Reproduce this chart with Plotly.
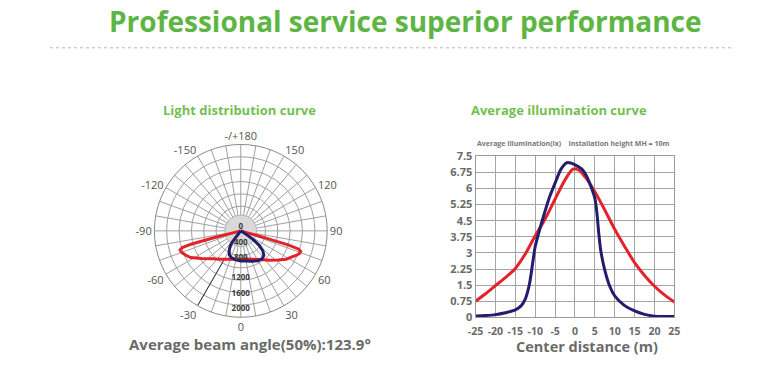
import plotly.graph_objects as go

# ---------------- data ----------------
# Average illumination curve (lx) vs center distance (m)
dist_blue = [-25, -22.5, -20, -17.5, -15, -13.5, -12.5, -11.5, -10.5, -10, -9, -8, -6.5, -5, -3.5, -2, -1, 0,
             1, 2, 3, 4, 5, 5.5, 6, 6.5, 7.5, 8.75, 10, 12.5, 15, 17.5, 20, 22.5, 25]
lux_blue = [0.07, 0.09, 0.13, 0.22, 0.35, 0.55, 0.85, 1.5, 2.7, 3.3, 4.0, 4.65, 5.55, 6.25, 6.9, 7.2, 7.18, 7.1,
            7.0, 6.85, 6.55, 6.1, 5.55, 4.9, 3.9, 3.1, 2.2, 1.45, 1.0, 0.55, 0.3, 0.14, 0.06, 0.04, 0.04]
dist_red = [-25, -22.5, -20, -17.5, -15, -12.5, -10, -7.5, -5, -2.5, -0.5, 1, 2.5, 5, 7.5, 10, 12.5, 15, 17.5,
            20, 22.5, 25]
lux_red = [0.75, 1.1, 1.48, 1.85, 2.28, 2.95, 3.8, 4.58, 5.5, 6.4, 6.9, 6.85, 6.55, 5.85, 5.0, 4.1, 3.3, 2.55,
           1.95, 1.45, 1.05, 0.72]
x_ticks = [-25, -20, -15, -10, -5, 0, 5, 10, 15, 20, 25]
x_ticktext = ["-25", "-20", "-15", "-10", "-5", "0", "5", "10", "15", "20", "25"]
y_ticks = [0, 0.75, 1.5, 2.25, 3, 3.75, 4.5, 5.25, 6, 6.75, 7.5]
y_ticktext = ["0", "0.75", "1.5", "2.25", "3", "3.75", "4.5", "5.25", "6", "6.75", "7.5"]

# Light distribution curve (polar, cd)
theta_red = [-76, -75.5, -75, -74, -72.5, -70, -66, -62, -55, -45, -36, -25, -12, 0, 12, 25, 35, 44, 52, 58,
             62, 66, 69, 71, 72.5, 73.5, 74, 74]
r_red = [0, 733, 1310, 1550, 1620, 1603, 1530, 1445, 1225, 1005, 895, 798, 738, 725, 733, 798, 890, 1038, 1205,
         1363, 1440, 1540, 1603, 1613, 1550, 1258, 625, 0]
theta_blue = [-38, -37.5, -37, -34, -30, -25, -19, -10, 0, 10, 20, 30, 37, 43, 48, 52, 55, 57, 58]
r_blue = [0, 210, 388, 493, 593, 680, 723, 750, 765, 780, 823, 880, 895, 860, 755, 588, 398, 210, 0]
angle_ticks = list(range(0, 360, 10))
angle_labels = {0: "0", 30: "30", 60: "60", 90: "90", 120: "120", 150: "150", 180: "-/+180",
                210: "-150", 240: "-120", 270: "-90", 300: "-60", 330: "-30"}
radial_label_vals = [0, 400, 800, 1200, 1600, 2000]
radial_max = 2200
n_rings = 7
center_disc_r = 400
beam_line_theta = [-30, -30]
beam_line_r = [860, 2200]

RED = "#e3222a"
BLUE = "#231d6e"
GREEN = "#5db543"
GREEN2 = "#72bf52"
GRAY = "#6a6a6a"
FONT = "Open Sans"

fig = go.Figure()

# ---------------- polar ----------------
disc_theta = list(range(0, 361, 5))
fig.add_trace(go.Scatterpolar(r=[center_disc_r] * len(disc_theta), theta=disc_theta, mode="lines",
                              fill="toself", fillcolor="#d9d9d9", line=dict(color="#b0b0b0", width=1),
                              hoverinfo="skip", subplot="polar"))
fig.add_trace(go.Scatterpolar(r=beam_line_r, theta=beam_line_theta, mode="lines",
                              line=dict(color="#333333", width=1), hoverinfo="skip", subplot="polar"))
fig.add_trace(go.Scatterpolar(r=r_red, theta=theta_red, mode="lines",
                              line=dict(color=RED, width=3), subplot="polar"))
fig.add_trace(go.Scatterpolar(r=r_blue, theta=theta_blue, mode="lines",
                              line=dict(color=BLUE, width=3), subplot="polar"))
fig.add_trace(go.Scatterpolar(r=radial_label_vals, theta=[0] * len(radial_label_vals), mode="text",
                              text=[str(v) for v in radial_label_vals],
                              textposition=["top center", "top center", "top center",
                                            "middle center", "middle center", "middle center"],
                              textfont=dict(family=FONT, size=8, color="#3a3a3a", weight="bold"),
                              hoverinfo="skip", subplot="polar"))

# ---------------- cartesian ----------------
fig.add_trace(go.Scatter(x=dist_red, y=lux_red, mode="lines",
                         line=dict(color=RED, width=3, shape="spline", smoothing=0.8)))
fig.add_trace(go.Scatter(x=dist_blue, y=lux_blue, mode="lines",
                         line=dict(color=BLUE, width=3, shape="spline", smoothing=0.8)))

W, H = 780, 376
# screen calibration: the captured page appears as screen = O + S * page
SX, SY, OXs, OYs = 0.983, 0.965, 8.0, 7.0

def X(x):
    return (x - OXs) / SX

def Y(y):
    return (y - OYs) / SY

def px(x):
    return X(x) / W

def py(y):
    return 1 - Y(y) / H

cx, cy, R = X(241), Y(231), 90

fig.update_layout(
    width=W, height=H, margin=dict(l=0, r=0, t=0, b=0),
    paper_bgcolor="white", plot_bgcolor="white", showlegend=False, hovermode=False,
    font=dict(family=FONT, color=GRAY),
    polar=dict(
        domain=dict(x=[(cx - R) / W, (cx + R) / W], y=[(H - cy - R) / H, (H - cy + R) / H]),
        bgcolor="white",
        angularaxis=dict(rotation=-90, direction="counterclockwise", tickmode="array",
                         tickvals=angle_ticks, ticktext=[angle_labels.get(a, "") for a in angle_ticks],
                         showgrid=True, gridcolor="#a0a0a0", gridwidth=0.7, linecolor="#8a8a8a",
                         linewidth=1, ticks="", tickfont=dict(family=FONT, size=11, color="#555555")),
        radialaxis=dict(range=[0, radial_max], tickmode="array",
                        tickvals=[radial_max * k / n_rings for k in range(1, n_rings)],
                        showticklabels=False, ticks="", showline=False,
                        gridcolor="#a0a0a0", gridwidth=0.7),
    ),
    xaxis=dict(domain=[px(476), px(675)], range=[-25, 25], tickmode="array", tickvals=x_ticks,
               ticktext=x_ticktext, tickangle=0, ticklabelstandoff=4, showgrid=True,
               gridcolor="#a5a5a5", gridwidth=1, zeroline=False, showline=True, mirror=True,
               linecolor="#999999", linewidth=1, ticks="",
               tickfont=dict(family=FONT, size=10.5, color=GRAY, weight="bold")),
    yaxis=dict(domain=[py(318), py(156)], range=[0, 7.5], tickmode="array",
               tickvals=y_ticks, ticktext=y_ticktext,
               showgrid=True, gridcolor="#a5a5a5", gridwidth=1, zeroline=False,
               showline=True, mirror=True, linecolor="#999999", linewidth=1, ticks="",
               tickfont=dict(family=FONT, size=11, color=GRAY, weight="bold")),
)

def ann(text, x, y, size, color, weight="bold"):
    fig.add_annotation(text=text, x=px(x), y=py(y), xref="paper", yref="paper",
                       showarrow=False, xanchor="center", yanchor="middle",
                       font=dict(family=FONT, size=size, color=color, weight=weight))

ann("Professional service superior performance", 406, 20, 28, GREEN, "bold")
ann("Light distribution curve", 240, 110, 13, GREEN2)
ann("Average illumination curve", 560, 110, 13, GREEN2)
ann("Average illumination(lx)    Installation height MH = 10m", 574, 143, 7, "#777777")
ann("Average beam angle(50%):123.9°", 250, 345, 15, GRAY)
ann("Center distance (m)", 588, 347, 14.5, GRAY)

fig.add_shape(type="line", xref="paper", yref="paper", x0=px(50), x1=px(735),
              y0=py(47), y1=py(47), line=dict(color="#b5b5b5", width=1, dash="dot"))

fig.write_html("out.html", config={"displayModeBar": False},
               post_script="document.body.style.margin='0px';")
